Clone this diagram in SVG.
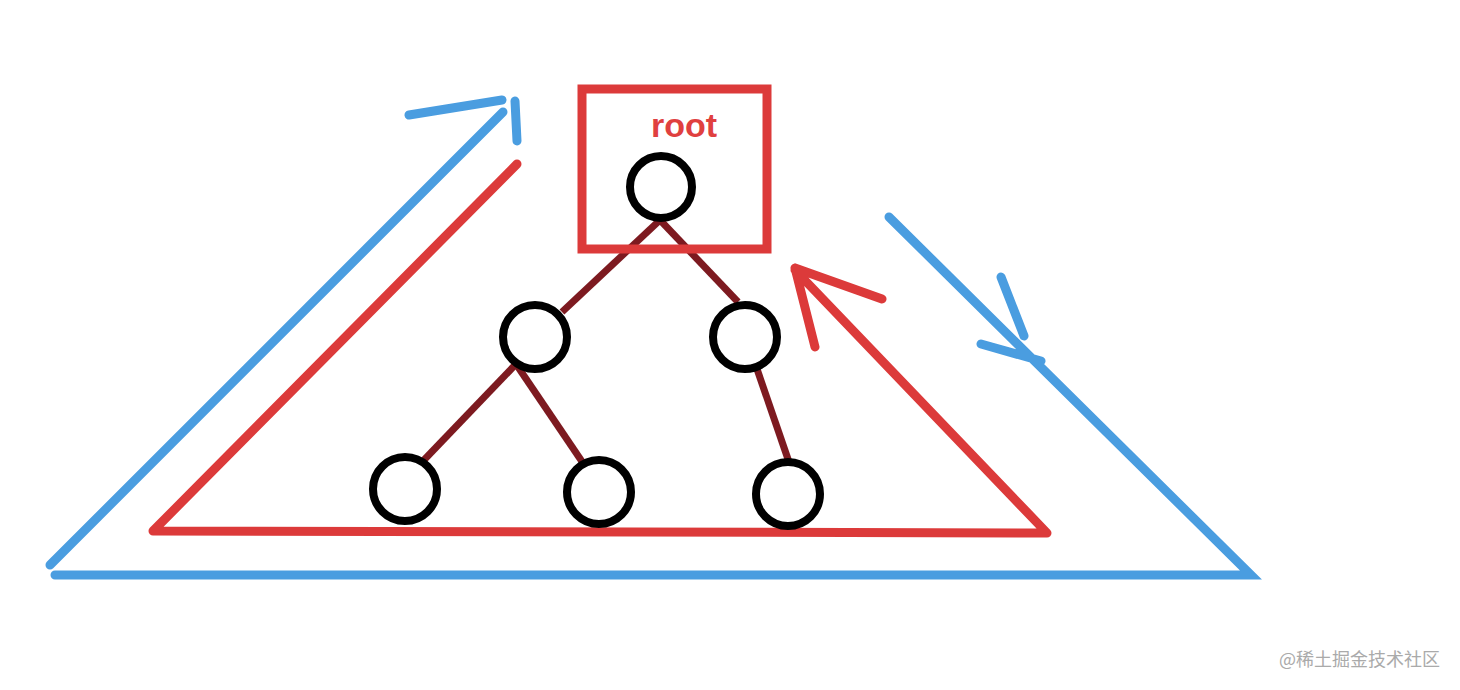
<svg xmlns="http://www.w3.org/2000/svg" width="1460" height="690" viewBox="0 0 1460 690">
<style>
.blue{stroke:#4a9de0;stroke-width:9;stroke-linecap:round;fill:none}
.red{stroke:#dc3a3a;stroke-width:9;stroke-linecap:round;stroke-linejoin:round;fill:none}
.edge{stroke:#7d1a20;stroke-width:7;stroke-linecap:butt;fill:none}
.node{fill:#fff;stroke:#000;stroke-width:8}
.wm{font-family:"Noto Sans CJK SC","Liberation Sans",sans-serif;font-size:18px;fill:#aaaaaa}
</style>
<rect width="1460" height="690" fill="#fff"/>
<g id="traversal">
<path class="blue" d="M50 565 L503 112 M409 115 L502 100 M515 101 L517 141"/>
<path class="blue" d="M55 575 L1251 575 L889 217 M1001 277 L1024 336 M981 344 L1041 361"/>
<path class="red" d="M517 164 L153 531 L1047 533 L795 270 M795 268 L882 299 M795 268 L815 347"/>
</g>
<g id="connectors">
<line class="edge" x1="660" y1="220" x2="562" y2="312"/>
<line class="edge" x1="660" y1="220" x2="738" y2="302"/>
<line class="edge" x1="516" y1="364" x2="423" y2="461"/>
<line class="edge" x1="516" y1="364" x2="585" y2="466"/>
<line class="edge" x1="757" y1="369" x2="790" y2="465"/>
</g>
<g id="root-box">
<rect x="582" y="89" width="185" height="160" fill="none" stroke="#dc3a3a" stroke-width="9"/>
<text x="684" y="137" text-anchor="middle" font-family="Liberation Sans,Arial,sans-serif" font-weight="bold" font-size="34" fill="#e0403f">root</text>
</g>
<g id="n-root"><circle class="node" cx="661" cy="187" r="31"/></g>
<g id="n-left"><circle class="node" cx="535" cy="337" r="32"/></g>
<g id="n-right"><circle class="node" cx="745" cy="337" r="32"/></g>
<g id="n-ll"><circle class="node" cx="405" cy="489" r="32"/></g>
<g id="n-lr"><circle class="node" cx="599" cy="492" r="32"/></g>
<g id="n-rl"><circle class="node" cx="788" cy="494" r="32"/></g>
<text class="wm" x="1279" y="666">@稀土掘金技术社区</text>
</svg>
